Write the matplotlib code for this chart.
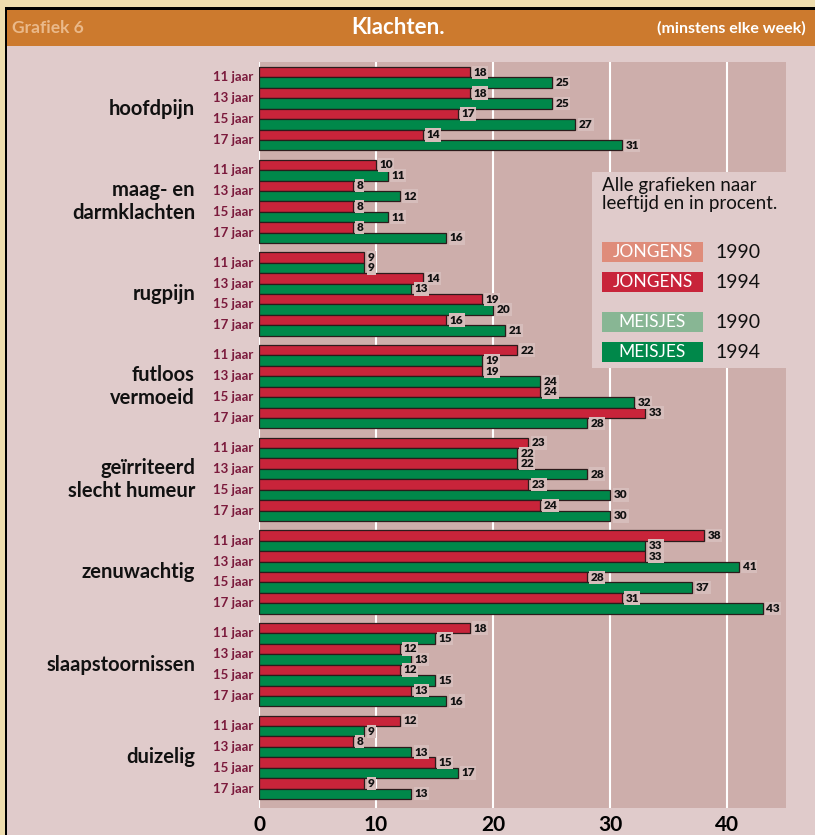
import numpy as np
import matplotlib
matplotlib.use("Agg")
import matplotlib.pyplot as plt
from matplotlib.patches import Rectangle
from matplotlib.transforms import blended_transform_factory

# data (percent, at least weekly)
categories = ["hoofdpijn", "maag- en\ndarmklachten", "rugpijn", "futloos\nvermoeid",
              "geïrriteerd\nslecht humeur", "zenuwachtig", "slaapstoornissen", "duizelig"]
ages = ["11 jaar", "13 jaar", "15 jaar", "17 jaar"]
jongens_1994 = [[18, 18, 17, 14], [10, 8, 8, 8], [9, 14, 19, 16], [22, 19, 24, 33],
                [23, 22, 23, 24], [38, 33, 28, 31], [18, 12, 12, 13], [12, 8, 15, 9]]
meisjes_1994 = [[25, 25, 27, 31], [11, 12, 11, 16], [9, 13, 20, 21], [19, 24, 32, 28],
                [22, 28, 30, 30], [33, 41, 37, 43], [15, 13, 15, 16], [9, 13, 17, 13]]
xticks = [0, 10, 20, 30, 40]
legend_labels = ["JONGENS", "JONGENS", "MEISJES", "MEISJES"]
legend_years = ["1990", "1994", "1990", "1994"]

# colours
RED = "#C8243A"
GREEN = "#00884A"
LEG_COLORS = ["#DF8C7A", RED, "#88B694", GREEN]
PANEL = "#E0CBCB"
PLOTBG = "#CDAEAB"
ORANGE = "#CC7A2E"
FONT = "Lato"

W, H = 815, 835
fig = plt.figure(figsize=(W / 100, H / 100), dpi=100)
fig.patch.set_facecolor("#EEDDAE")


def fig_rect(x0, y0, x1, y1, color, z):
    fig.patches.append(Rectangle((x0 / W, 1 - y1 / H), (x1 - x0) / W, (y1 - y0) / H,
                                 transform=fig.transFigure, facecolor=color,
                                 edgecolor="none", zorder=z))


# frame, header and panel
fig_rect(5, 7, W, H, "black", -12)
fig_rect(7, 10, W, 46, ORANGE, -11)
fig_rect(7, 46, W, H, PANEL, -11)

fig.text(12 / W, 1 - 28 / H, "Grafiek 6", color="#EAB98A", fontsize=12.5,
         weight="bold", family=FONT, va="center", ha="left")
fig.text(398 / W, 1 - 27 / H, "Klachten.", color="white", fontsize=16,
         weight="bold", family=FONT, va="center", ha="center")
fig.text(806 / W, 1 - 28 / H, "(minstens elke week)", color="white", fontsize=11.5,
         weight="bold", family=FONT, va="center", ha="right")

# plot area
ax = fig.add_axes([259 / W, 1 - 808 / H, (786 - 259) / W, (808 - 62) / H])
ax.set_facecolor(PLOTBG)
for s in ax.spines.values():
    s.set_visible(False)
ax.set_xlim(0, 45)
ax.set_ylim(70.52, -0.98)
ax.set_yticks([])
ax.set_xticks(xticks)
ax.set_xticklabels([str(t) for t in xticks], fontsize=15, weight="bold", family=FONT)
ax.tick_params(axis="x", length=0, pad=5)
for t in xticks:
    ax.axvline(t, color="white", lw=1.5, zorder=1)

group_step = 8.88
lab_tr = blended_transform_factory(fig.transFigure, ax.transData)
for g, cat in enumerate(categories):
    base = g * group_step
    for i, age in enumerate(ages):
        yr = base + 2 * i
        yg = yr + 1
        vr = jongens_1994[g][i]
        vg = meisjes_1994[g][i]
        ax.barh(yr, vr, height=1, color=RED, edgecolor="#2b1b1b", lw=0.9, zorder=3)
        ax.barh(yg, vg, height=1, color=GREEN, edgecolor="#2b1b1b", lw=0.9, zorder=3)
        for v, y in ((vr, yr), (vg, yg)):
            ax.text(v + 0.3, y, str(v), va="center", ha="left", fontsize=8.5,
                    weight="heavy", family=FONT, color="#111111", zorder=4,
                    bbox=dict(boxstyle="square,pad=0.1", fc="#D6BDBB", ec="none"))
        ax.text(253 / W, yr + 0.5, age, transform=lab_tr, ha="right", va="center",
                fontsize=9.5, weight="bold", family=FONT, color="#7B1A3C",
                clip_on=False)
    ax.text(195 / W, base + 3.5, cat, transform=lab_tr, ha="right", va="center",
            fontsize=14.5, weight="bold", family=FONT, color="#111111",
            linespacing=1.15, clip_on=False)

# legend box
fig_rect(592, 172, 790, 368, PANEL, 5)
fig.text(602 / W, 1 - 177 / H, "Alle grafieken naar\nleeftijd en in procent.",
         fontsize=13.5, family=FONT, color="#111111", va="top", ha="left",
         linespacing=1.1, zorder=6)
sw_top = [242, 272, 312, 342]
for lbl, yr_txt, c, top in zip(legend_labels, legend_years, LEG_COLORS, sw_top):
    fig_rect(602, top, 703, top + 20, c, 6)
    fig.text(652.5 / W, 1 - (top + 10) / H, lbl, color="white", fontsize=12.5,
             family=FONT, ha="center", va="center", zorder=7)
    fig.text(715 / W, 1 - (top + 10) / H, yr_txt, color="#111111", fontsize=14,
             family=FONT, ha="left", va="center", zorder=7)

fig.savefig("out.png", dpi=100, facecolor=fig.get_facecolor())
